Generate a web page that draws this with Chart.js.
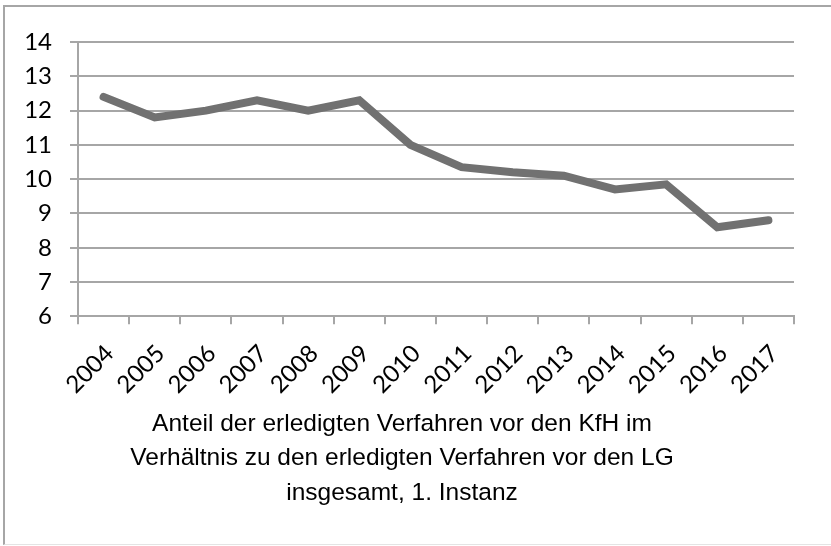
<!DOCTYPE html>
<html>
<head>
<meta charset="utf-8">
<script src="https://cdn.jsdelivr.net/npm/chart.js@4"></script>
<style>
  html, body { margin: 0; padding: 0; background: #fff; overflow: hidden; }
  #frame {
    position: absolute; left: 3px; top: 5px; width: 900px; height: 537px;
    border-left: 2px solid #a6a6a6; border-top: 2px solid #a6a6a6;
    border-bottom: 1px solid #e4e4e4;
  }
  #wrap { position: absolute; left: 0; top: 0; width: 831px; height: 546px; }
</style>
</head>
<body>
<div id="frame"></div>
<div id="wrap"><canvas id="chart"></canvas></div>
<script>
const years = ['2004', '2005', '2006', '2007', '2008', '2009', '2010',
               '2011', '2012', '2013', '2014', '2015', '2016', '2017'];
const shares = [12.4, 11.8, 12.0, 12.3, 12.0, 12.3, 11.0,
                10.35, 10.2, 10.1, 9.7, 9.85, 8.6, 8.8];
const yTicks = [6, 7, 8, 9, 10, 11, 12, 13, 14];
const titleLines = [
    'Anteil der erledigten Verfahren vor den KfH im',
    'Verhältnis zu den erledigten Verfahren vor den LG',
    'insgesamt, 1. Instanz'
];

const gridGray = '#a6a6a6';

new Chart(document.getElementById('chart'), {
    type: 'line',
    data: {
        labels: years,
        datasets: [{
            data: shares,
            borderColor: '#717171',
            borderWidth: 8,
            borderCapStyle: 'round',
            borderJoinStyle: 'miter',
            pointRadius: 0,
            tension: 0,
            fill: false
        }]
    },
    options: {
        responsive: true,
        maintainAspectRatio: false,
        animation: false,
        layout: { padding: { left: 10, right: 37, top: 42, bottom: 36 } },
        plugins: {
            legend: { display: false },
            tooltip: { enabled: false },
            title: {
                display: true,
                position: 'bottom',
                text: titleLines,
                color: '#000',
                font: { family: 'Liberation Sans', size: 24.5, weight: 'normal', lineHeight: 1.4 },
                padding: { top: -7, bottom: 0 }
            }
        },
        scales: {
            x: {
                offset: true,
                grid: {
                    offset: true,
                    drawOnChartArea: false,
                    drawTicks: true,
                    tickLength: 8,
                    color: gridGray,
                    lineWidth: 2
                },
                border: { color: gridGray, width: 2 },
                ticks: {
                    color: '#000',
                    font: { family: 'Lato', size: 24 },
                    minRotation: 45,
                    maxRotation: 45,
                    padding: 15,
                    labelOffset: 6,
                    autoSkip: false
                }
            },
            y: {
                min: 6,
                max: 14,
                afterFit: scale => { scale.width = 68; },
                afterBuildTicks: scale => { scale.ticks = yTicks.map(v => ({ value: v })); },
                grid: {
                    color: gridGray,
                    lineWidth: 2,
                    tickLength: 8
                },
                border: { color: gridGray, width: 2 },
                ticks: {
                    color: '#000',
                    font: { family: 'Lato', size: 24 },
                    padding: 18,
                    autoSkip: false
                }
            }
        }
    }
});
</script>
</body>
</html>
